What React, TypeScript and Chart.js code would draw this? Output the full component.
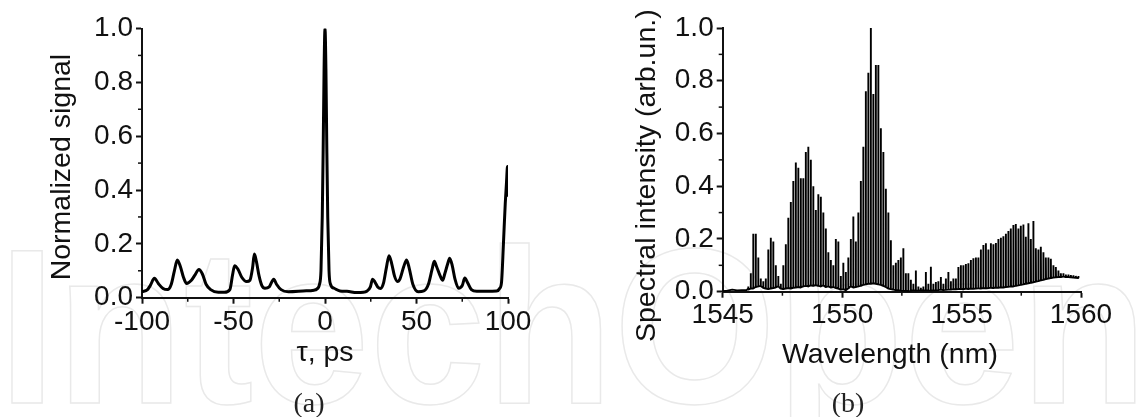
import React, { useEffect, useRef } from "react";
import { Chart, registerables } from "chart.js";

Chart.register(...registerables);

// Panel (a): autocorrelation trace
const delayPs = [
  -100, -97, -95.5, -93.2, -91, -88.5, -86, -84, -82.3, -80.7, -79, -77.3, -75.6, -73, -71, -68.9, -67, -65, -62.5, -58.3,
  -55, -52, -50.5, -49.4, -47.5, -45.5, -42.8, -41, -39.6, -38.6, -37.5, -36, -34.5, -32.8, -30.5, -28, -26.5, -24, -20,
  -12, -6, -4.5, -3, -2.2, -1.5, -1, -0.5, 0, 0.5, 1, 1.5, 2.2, 3, 5, 8.2, 12, 17.3, 21, 23, 24.8, 26, 27.3, 28.8, 30.4,
  32, 33.5, 35, 36.5, 38, 39.6, 41, 43, 44.6, 46, 48, 50.9, 54, 56.5, 58.5, 59.7, 61, 63, 64.3, 65.5, 67, 68.1, 69.5, 71,
  73, 75, 76.4, 78, 80, 82.9, 88, 93.8, 95.5, 96.5, 97.5, 98.5, 99.2, 99.6, 99.8, 99.9,
];
const signal = [
  0.022, 0.03, 0.045, 0.072, 0.052, 0.034, 0.03, 0.05, 0.1, 0.14, 0.115, 0.075, 0.053, 0.065, 0.085, 0.105, 0.088, 0.05, 0.03, 0.02,
  0.02, 0.03, 0.085, 0.119, 0.105, 0.076, 0.06, 0.065, 0.11, 0.162, 0.135, 0.08, 0.045, 0.035, 0.04, 0.069, 0.05, 0.03, 0.022,
  0.025, 0.028, 0.032, 0.05, 0.1, 0.3, 0.55, 0.85, 1.0, 0.85, 0.55, 0.3, 0.1, 0.05, 0.035, 0.025, 0.024, 0.019, 0.02, 0.025, 0.04,
  0.069, 0.058, 0.04, 0.034, 0.055, 0.11, 0.156, 0.125, 0.08, 0.06, 0.07, 0.115, 0.14, 0.11, 0.05, 0.022, 0.025, 0.05, 0.105, 0.135,
  0.115, 0.08, 0.065, 0.09, 0.125, 0.147, 0.12, 0.07, 0.035, 0.045, 0.073, 0.055, 0.03, 0.024, 0.024, 0.025, 0.035, 0.06, 0.2,
  0.35, 0.43, 0.48, 0.487, 0.375,
];

// Panel (b): optical spectrum, leading flat part, then comb tooth tops and the floor between teeth
const leadWavelength = [1545, 1545.2, 1545.4, 1545.6, 1545.8, 1546, 1546.05];
const leadIntensity = [0.002, 0.004, 0.008, 0.005, 0.006, 0.006, 0.01];
const combStart = 1546.06;
const combStep = 0.1047;
const toothTops = [
  0.02, 0.07, 0.22, 0.22, 0.13, 0.05, 0.04, 0.05, 0.16, 0.205, 0.19, 0.1, 0.06, 0.03, 0.1, 0.18, 0.28, 0.34, 0.42, 0.49,
  0.47, 0.43, 0.43, 0.53, 0.55, 0.5, 0.4, 0.31, 0.37, 0.36, 0.3, 0.24, 0.15, 0.12, 0.1, 0.2, 0.19, 0.06, 0.11, 0.075,
  0.13, 0.2, 0.285, 0.19, 0.3, 0.42, 0.55, 0.76, 0.83, 1.0, 0.75, 0.86, 0.86, 0.62, 0.53, 0.39, 0.3, 0.195, 0.1, 0.11,
  0.12, 0.13, 0.165, 0.07, 0.07, 0.045, 0.03, 0.08, 0.02, 0.015, 0.02, 0.075, 0.03, 0.095, 0.03, 0.037, 0.04, 0.056, 0.03, 0.05,
  0.075, 0.04, 0.05, 0.05, 0.094, 0.1, 0.1, 0.105, 0.108, 0.12, 0.127, 0.13, 0.13, 0.16, 0.177, 0.184, 0.16, 0.184, 0.18, 0.185,
  0.2, 0.205, 0.21, 0.22, 0.23, 0.24, 0.253, 0.257, 0.24, 0.25, 0.255, 0.208, 0.26, 0.2, 0.268, 0.165, 0.16, 0.17, 0.15, 0.13,
  0.13, 0.125, 0.1, 0.094, 0.08, 0.07, 0.07, 0.065, 0.065, 0.063, 0.062, 0.06, 0.06,
];
const toothFloors = [
  0.008, 0.012, 0.012, 0.018, 0.02, 0.022, 0.015, 0.012, 0.01, 0.012, 0.014, 0.016, 0.02, 0.012, 0.01, 0.012, 0.014, 0.012, 0.015, 0.016,
  0.018, 0.016, 0.02, 0.022, 0.02, 0.024, 0.022, 0.025, 0.022, 0.02, 0.024, 0.018, 0.02, 0.016, 0.018, 0.014, 0.012, 0.008, 0.01, 0.006,
  0.012, 0.02, 0.016, 0.018, 0.02, 0.022, 0.026, 0.028, 0.03, 0.03, 0.032, 0.03, 0.028, 0.026, 0.022, 0.018, 0.012, 0.01, 0.008, 0.006,
  0.006, 0.004, 0.003, 0.004, 0.002, 0.003, 0.006, 0.004, 0.005, 0.006, 0.004, 0.006, 0.005, 0.004, 0.006, 0.005, 0.006, 0.008, 0.006, 0.007,
  0.008, 0.008, 0.01, 0.009, 0.01, 0.011, 0.009, 0.012, 0.01, 0.012, 0.011, 0.012, 0.013, 0.012, 0.014, 0.013, 0.014, 0.015, 0.014, 0.016,
  0.015, 0.017, 0.016, 0.018, 0.019, 0.02, 0.02, 0.022, 0.024, 0.026, 0.028, 0.03, 0.032, 0.034, 0.036, 0.038, 0.04, 0.043, 0.045, 0.048,
  0.05, 0.052, 0.054, 0.055, 0.056, 0.056, 0.057, 0.056, 0.056, 0.055, 0.054, 0.053, 0.052,
];

const yMajor = [0, 0.2, 0.4, 0.6, 0.8, 1];
const yMinor = [0.1, 0.3, 0.5, 0.7, 0.9];
const delayMajor = [-100, -50, 0, 50, 100];
const delayMinor = [-75, -25, 25, 75];
const waveMajor = [1545, 1550, 1555, 1560];
const waveMinor = [1547.5, 1552.5, 1557.5];

const FONT = "'Liberation Sans', Arial, sans-serif";
const INK = "#111111";

const minorTicks = (xMinor: number[], yMinorVals: number[]) => ({
  id: "minorTicks",
  afterDraw(chart: any) {
    const { ctx, scales } = chart;
    ctx.save();
    ctx.strokeStyle = INK;
    ctx.lineWidth = 1.5;
    for (const v of xMinor) {
      const p = scales.x.getPixelForValue(v);
      ctx.beginPath();
      ctx.moveTo(p, scales.y.bottom);
      ctx.lineTo(p, scales.y.bottom + 4);
      ctx.stroke();
    }
    for (const v of yMinorVals) {
      const p = scales.y.getPixelForValue(v);
      ctx.beginPath();
      ctx.moveTo(scales.x.left, p);
      ctx.lineTo(scales.x.left - 4, p);
      ctx.stroke();
    }
    ctx.restore();
  },
});

function options(cfg: any) {
  return {
    responsive: false,
    animation: false,
    events: [],
    layout: { padding: cfg.padding },
    plugins: { legend: { display: false }, tooltip: { enabled: false } },
    scales: {
      x: {
        type: "linear",
        min: cfg.xMajor[0],
        max: cfg.xMajor[cfg.xMajor.length - 1],
        afterFit: (s: any) => { s.height = cfg.xHeight; },
        afterBuildTicks: (s: any) => { s.ticks = cfg.xMajor.map((value: number) => ({ value })); },
        grid: { drawOnChartArea: false, tickLength: 6, tickWidth: 2, tickColor: INK },
        border: { color: INK, width: 2 },
        ticks: {
          color: INK, font: { family: FONT, size: 28 }, padding: cfg.xTickPad,
          maxRotation: 0, autoSkip: false, callback: (v: number) => String(v),
        },
        title: {
          display: true, text: cfg.xTitle, color: INK,
          font: { family: FONT, size: 28.5 }, padding: 0,
        },
      },
      y: {
        min: 0,
        max: 1,
        afterFit: (s: any) => { s.width = cfg.yWidth; },
        afterBuildTicks: (s: any) => { s.ticks = yMajor.map((value) => ({ value })); },
        grid: { drawOnChartArea: false, tickLength: 6, tickWidth: 2, tickColor: INK },
        border: { color: INK, width: 2 },
        ticks: {
          color: INK, font: { family: FONT, size: 28 }, padding: 3,
          callback: (v: number) => v.toFixed(1),
        },
        title: {
          display: true, text: cfg.yTitle, color: INK,
          font: { family: FONT, size: 28.5 }, padding: 0,
        },
      },
    },
  } as any;
}

function comb() {
  const pts = leadWavelength.map((x, i) => ({ x, y: leadIntensity[i] }));
  toothTops.forEach((top, i) => {
    const x = combStart + combStep * i;
    const floor = toothFloors[i];
    pts.push({ x, y: floor });
    pts.push({ x: x + 0.008, y: top });
    pts.push({ x: x + 0.016, y: floor });
  });
  return pts;
}

export default function App() {
  const aRef = useRef<HTMLCanvasElement>(null);
  const bRef = useRef<HTMLCanvasElement>(null);

  useEffect(() => {
    const a = new Chart(aRef.current!, {
      type: "line",
      data: {
        datasets: [{
          data: delayPs.map((x, i) => ({ x, y: signal[i] })),
          borderColor: "#000000", borderWidth: 3, pointRadius: 0,
          cubicInterpolationMode: "monotone",
        }],
      },
      options: options({
        padding: { left: 45, right: 61, top: 28.5, bottom: 46.3 },
        xMajor: delayMajor, xHeight: 73, xTickPad: 2,
        xTitle: "τ, ps", yTitle: "Normalized signal ", yWidth: 97,
      }),
      plugins: [minorTicks(delayMinor, yMinor)],
    } as any);
    const b = new Chart(bRef.current!, {
      type: "line",
      data: {
        datasets: [{
          data: comb(),
          borderColor: "#000000", borderWidth: 1.9, pointRadius: 0, tension: 0,
          borderJoinStyle: "bevel",
        }],
      },
      options: options({
        padding: { left: 60.6, right: 57, top: 28, bottom: 44.3 },
        xMajor: waveMajor, xHeight: 81, xTickPad: 1,
        xTitle: "Wavelength (nm)   ", yTitle: "Spectral intensity (arb.un.)    ", yWidth: 93.1,
      }),
      plugins: [minorTicks(waveMinor, yMinor)],
    } as any);
    return () => { a.destroy(); b.destroy(); };
  }, []);

  const caption: React.CSSProperties = {
    position: "absolute", top: 387, width: 60, textAlign: "center",
    fontFamily: "'Liberation Serif', serif", fontSize: 28, lineHeight: "32px", color: "#222",
  };

  return (
    <div style={{ position: "absolute", left: 0, top: 0, width: 1138, height: 417, overflow: "hidden", background: "#fff" }}>
      <div style={{
        position: "absolute", left: -2, top: 204, whiteSpace: "nowrap",
        fontFamily: FONT, fontWeight: 700, fontSize: 220, lineHeight: "246px",
        color: "transparent", WebkitTextStroke: "1.5px #e9e9e9",
        transform: "scaleX(0.95)", transformOrigin: "left top",
      } as any}>IntechOpen</div>
      <canvas ref={aRef} width={569} height={417} style={{ position: "absolute", left: 0, top: 0 }} />
      <canvas ref={bRef} width={569} height={417} style={{ position: "absolute", left: 569, top: 0 }} />
      <div style={{ ...caption, left: 279 }}>(a)</div>
      <div style={{ ...caption, left: 818 }}>(b)</div>
    </div>
  );
}
